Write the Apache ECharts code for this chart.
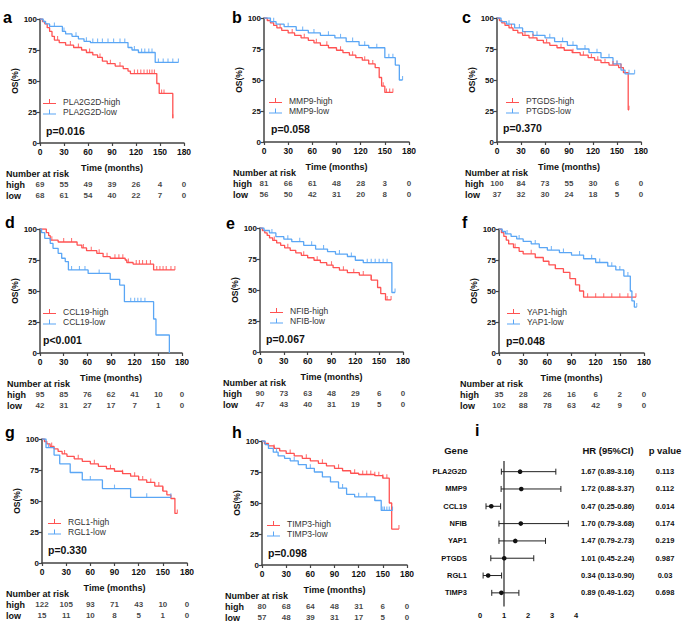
<!DOCTYPE html>
<html><head><meta charset="utf-8">
<script src="https://cdn.jsdelivr.net/npm/echarts@6/dist/echarts.min.js"></script>
<style>html,body{margin:0;padding:0;background:#fff}#c{width:685px;height:627px}</style>
</head><body><div id="c"></div><script>
// ---------------- DATA ----------------
const timeTicks = [0, 30, 60, 90, 120, 150, 180];
const panelGenes = ['PLA2G2D', 'MMP9', 'PTGDS', 'CCL19', 'NFIB', 'YAP1', 'RGL1', 'TIMP3'];
const panelLetters = ['a', 'b', 'c', 'd', 'e', 'f', 'g', 'h'];
const pValues = ['p=0.016', 'p=0.058', 'p=0.370', 'p<0.001', 'p=0.067', 'p=0.048', 'p=0.330', 'p=0.098'];
const riskRows = ['high', 'low'];
const riskHigh = [[69,55,49,39,26,4,0],[81,66,61,48,28,3,0],[100,84,73,55,30,6,0],[95,85,76,62,41,10,0],[90,73,63,48,29,6,0],[35,28,26,16,6,2,0],[122,105,93,71,43,10,0],[80,68,64,48,31,6,0]];
const riskLow = [[68,61,54,40,22,7,0],[56,50,42,31,20,8,0],[37,32,30,24,18,5,0],[42,31,27,17,7,1,0],[47,43,40,31,19,5,0],[102,88,78,63,42,9,0],[15,11,10,8,5,1,0],[57,48,39,31,17,5,0]];

// KM step curves [time, survival%]
const plaHigh = [[0,100],[3,98],[6,96],[9,93],[12,90],[15,86],[18,83],[24,81],[32,79],[42,77],[52,75],[58,73],[66,71],[72,69],[78,66],[84,64],[94,62],[104,60],[110,58],[113,56],[146,48],[149,40],[166,20],[166.5,20]];
const plaLow = [[0,100],[4,98],[7,96],[12,94],[28,90],[32,88],[40,86],[48,84],[55,82],[63,81],[110,77],[115,75],[123,73],[144,65],[173,65]];
const mmpHigh = [[0,100],[4,98],[8,96],[12,94],[16,92],[22,90],[30,88],[38,86],[46,84],[55,82],[62,80],[70,78],[80,76],[90,74],[98,72],[106,70],[114,68],[122,66],[130,63],[138,60],[143,52],[146,45],[150,40],[160,40]];
const mmpLow = [[0,100],[8,97],[15,95],[25,93],[40,90],[55,88],[70,86],[88,84],[102,81],[118,78],[130,76],[150,68],[163,62],[168,50],[172,50]];
const ptgHigh = [[0,100],[3,98],[6,96],[10,94],[15,92],[20,90],[26,88],[32,86],[40,84],[50,82],[58,80],[66,78],[75,76],[84,74],[94,72],[104,70],[114,68],[122,66],[130,64],[140,62],[152,60],[158,56],[164,26],[165,26]];
const ptgLow = [[0,100],[5,97],[12,95],[22,92],[32,89],[45,86],[60,84],[72,81],[88,78],[100,75],[115,72],[130,68],[145,63],[155,58],[160,55],[172,55]];
const cclHigh = [[0,100],[8,97],[11,94.6],[13,91],[23,89.5],[47,87],[53,84.7],[59,82.5],[72,80.4],[80,77.7],[89,76.4],[108,75],[110,73],[118,71.7],[144,67],[171,67]];
const cclLow = [[0,100],[2,97],[6,92.5],[13,88.4],[16.5,84.4],[23,80.4],[27.5,76.4],[32,73.7],[36,67],[61,64.2],[89,59.4],[101,54.8],[107,41.4],[144,27.4],[147,14.5],[164,0]];
const nfibHigh = [[0,100],[3,98],[6,96],[9,94],[12,92],[16,90],[21,88],[26,86],[31,84],[38,82],[45,80],[52,78],[60,76],[68,74],[76,72],[84,70],[92,68],[100,66],[110,64],[125,62],[140,58],[148,52],[152,47],[158,42],[165,42]];
const nfibLow = [[0,100],[5,98],[12,96],[20,93],[30,91],[40,89],[55,86],[70,83],[85,81],[95,79],[110,77],[120,74],[130,72],[166,48],[170,48]];
const yapHigh = [[0,100],[3,97],[6,94],[9,91],[12,88],[18,85],[25,82],[30,80],[45,77],[55,74],[62,71],[70,68],[80,65],[88,60],[95,55],[100,50],[105,45],[170,45]];
const yapLow = [[0,100],[4,98],[8,96],[15,94],[22,92],[30,90],[40,88],[50,85],[60,83],[75,81],[90,79],[105,76],[120,73],[135,70],[145,67],[155,62],[163,50],[165,42],[168,37],[171,37]];
const rglHigh = [[0,100],[3,98],[6,96],[10,94],[15,92],[20,90],[25,88],[31,86],[40,84],[50,82],[60,80],[70,78],[80,76],[90,74],[100,72],[110,70],[120,67],[130,65],[140,62],[150,58],[155,55],[160,52],[165,40],[168,40]];
const rglLow = [[0,100],[5,93],[15,87],[22,80],[35,73],[50,67],[75,60],[110,53],[160,53]];
const timHigh = [[0,100],[3,98],[8,96],[15,94],[22,92],[30,90],[40,88],[50,86],[60,84],[70,82],[80,80],[90,78],[100,76],[110,74],[120,73],[140,72],[150,70],[158,50],[161,29],[170,29]];
const timLow = [[0,100],[4,97],[8,94],[14,91],[20,88],[28,86],[35,84],[45,81],[55,78],[65,75],[75,71],[85,67],[95,62],[105,57],[115,55],[140,52],[148,44],[162,44]];

// censor times
const plaHighC = [22,38,48,62,75,88,100,118,122,126,130,134,137,140,143,152,155,166];
const plaLowC = [18,30,45,58,66,72,78,85,92,100,106,118,127,131,136,140,148,154,160,166,173];
const mmpHighC = [20,35,50,65,78,95,110,125,135,148,152,156,160];
const mmpLowC = [12,30,48,62,80,95,110,125,140,155,160,172];
const ptgHighC = [18,35,45,62,80,95,108,118,126,135,145,150,155,165];
const ptgLowC = [15,28,50,66,82,95,110,125,140,150,165,172];
const cclHighC = [15,30,40,55,65,75,85,95,100,105,112,122,126,130,135,140,148,152,156,160,166,171];
const cclLowC = [40,50,57,75,115,120,124,128,133];
const nfibHighC = [18,35,55,72,90,105,118,130,140,160,165];
const nfibLowC = [15,35,50,65,80,100,115,135,140,145,150,155,160,170];
const yapHighC = [20,40,70,110,120,130,140,150,160,170];
const yapLowC = [10,25,45,65,80,100,115,125,140,150,160,171];
const rglHighC = [12,28,45,65,85,100,115,125,135,145,150,168];
const rglLowC = [8,60,90,130,160];
const timHighC = [15,35,55,75,95,115,125,130,135,140,145,150,155,170];
const timLowC = [18,40,60,100,120,130,140,150,152,155,158,162];

const curvesHigh = [plaHigh, mmpHigh, ptgHigh, cclHigh, nfibHigh, yapHigh, rglHigh, timHigh];
const curvesLow = [plaLow, mmpLow, ptgLow, cclLow, nfibLow, yapLow, rglLow, timLow];
const censHigh = [plaHighC, mmpHighC, ptgHighC, cclHighC, nfibHighC, yapHighC, rglHighC, timHighC];
const censLow = [plaLowC, mmpLowC, ptgLowC, cclLowC, nfibLowC, yapLowC, rglLowC, timLowC];

// Forest plot
const forestGenes = ['PLA2G2D', 'MMP9', 'CCL19', 'NFIB', 'YAP1', 'PTGDS', 'RGL1', 'TIMP3'];
const hrVal = [1.67, 1.72, 0.47, 1.70, 1.47, 1.01, 0.34, 0.89];
const hrLo = [0.89, 0.88, 0.25, 0.79, 0.79, 0.45, 0.13, 0.49];
const hrHi = [3.16, 3.37, 0.86, 3.68, 2.73, 2.24, 0.90, 1.62];
const forestP = ['0.113', '0.112', '0.014', '0.174', '0.219', '0.987', '0.03', '0.698'];

// ---------------- LAYOUT ----------------
const FONT = 'Liberation Sans, Arial, Helvetica, sans-serif';
const RED = '#FF5252', BLUE = '#5AA6F5', AX = '#444';
const PH = 124;
const layout = [
  {gx:40,  gy:19,  gw:144, letter:[3,17],   lgx:43,  pv:[46,131],  nar:6},
  {gx:264, gy:18,  gw:145, letter:[232,17], lgx:269, pv:[271,129], nar:233},
  {gx:497, gy:18,  gw:144, letter:[462,17], lgx:506, pv:[503,128], nar:465},
  {gx:40,  gy:229, gw:142, letter:[5,222],  lgx:43,  pv:[43,340],  nar:7},
  {gx:260, gy:228, gw:143, letter:[226,223],lgx:270, pv:[266,339], nar:223},
  {gx:499, gy:229, gw:145, letter:[462,222],lgx:507, pv:[506,341], nar:460},
  {gx:42,  gy:439, gw:145, letter:[5,432],  lgx:48,  pv:[48,550],  nar:6},
  {gx:262, gy:441, gw:145, letter:[232,432],lgx:267, pv:[268,553], nar:225}
];

function stepValue(curve, t) {
  let s = curve[0][1];
  for (const p of curve) { if (p[0] <= t) s = p[1]; else break; }
  return s;
}

const grid = [], xAxis = [], yAxis = [], series = [], legend = [], graphic = [];
const boldLbl = {fontFamily: FONT, fontWeight: 'bold', color: '#111'};

layout.forEach((L, i) => {
  const y0 = L.gy + PH;
  const ki = 2 * i, ri = 2 * i + 1;
  // KM grid
  grid.push({left: L.gx, top: L.gy, width: L.gw, height: PH});
  xAxis.push({gridIndex: ki, type: 'value', min: 0, max: 180, interval: 30,
    axisLine: {lineStyle: {color: AX, width: 1.5}},
    axisTick: {length: 3, lineStyle: {color: AX, width: 1.2}},
    axisLabel: Object.assign({fontSize: 8.5, margin: 4}, boldLbl),
    splitLine: {show: false},
    name: 'Time (months)', nameLocation: 'middle', nameGap: 20,
    nameTextStyle: {fontFamily: FONT, fontWeight: 'bold', fontSize: 9, color: '#111'}});
  yAxis.push({gridIndex: ki, type: 'value', min: 0, max: 100, interval: 25,
    axisLine: {show: true, lineStyle: {color: AX, width: 1.5}},
    axisTick: {show: true, length: 3, lineStyle: {color: AX, width: 1.2}},
    axisLabel: Object.assign({fontSize: 8, margin: 3}, boldLbl),
    splitLine: {show: false},
    name: 'OS(%)', nameLocation: 'middle', nameGap: 20,
    nameTextStyle: {fontFamily: FONT, fontWeight: 'bold', fontSize: 8.5, color: '#111'}});
  // risk grid
  grid.push({left: L.gx, top: y0 + 36, width: L.gw, height: 22});
  xAxis.push({gridIndex: ri, type: 'value', min: 0, max: 180, show: false});
  yAxis.push({gridIndex: ri, type: 'category', data: riskRows, inverse: true,
    axisLine: {show: false}, axisTick: {show: false},
    axisLabel: Object.assign({fontSize: 9, align: 'left', margin: L.gx - L.nar, interval: 0}, boldLbl)});

  const g = panelGenes[i];
  [[curvesHigh[i], censHigh[i], RED, g + '-high'], [curvesLow[i], censLow[i], BLUE, g + '-low']].forEach(([c, cs, col, nm]) => {
    series.push({type: 'line', name: nm, xAxisIndex: ki, yAxisIndex: ki, data: c, step: 'end',
      showSymbol: false, symbol: 'none', color: col, lineStyle: {color: col, width: 1.3}, silent: true, animation: false, z: 3});
    series.push({type: 'scatter', name: nm + ' censored', xAxisIndex: ki, yAxisIndex: ki,
      data: cs.map(t => [t, stepValue(c, t)]), symbol: 'rect', symbolSize: [1.1, 4], symbolOffset: [0, -2],
      itemStyle: {color: col}, silent: true, animation: false, z: 4});
  });
  legend.push({data: [g + '-high', g + '-low'], left: L.lgx, top: L.gy + 78, orient: 'vertical',
    itemGap: 1.5, itemWidth: 13, itemHeight: 5, padding: 0, selectedMode: false,
    icon: 'path://M0,8H26V10H0Z M12,0H14V8H12Z',
    textStyle: {fontFamily: FONT, fontSize: 8.5, color: '#333', padding: [0, 0, 0, 2]}});
  [riskHigh[i], riskLow[i]].forEach((row, r) => {
    series.push({type: 'scatter', xAxisIndex: ri, yAxisIndex: ri, symbolSize: 0, silent: true, animation: false,
      data: row.map((v, k) => ({value: [timeTicks[k], r], n: v})),
      label: {show: true, position: 'inside', formatter: p => String(p.data.n),
        fontFamily: FONT, fontWeight: 'bold', fontSize: 8, color: '#111'}});
  });
  graphic.push({type: 'text', x: L.nar, y: y0 + 31, style: {text: 'Number at risk', font: 'bold 9px ' + FONT, fill: '#111', textVerticalAlign: 'middle'}});
  graphic.push({type: 'text', x: L.letter[0], y: L.letter[1], style: {text: panelLetters[i], font: 'bold 16px ' + FONT, fill: '#000', textVerticalAlign: 'middle'}});
  graphic.push({type: 'text', x: L.pv[0], y: L.pv[1], style: {text: pValues[i], font: 'bold 10.5px ' + FONT, fill: '#111', textVerticalAlign: 'middle'}});
});

// Forest plot
const FI = 16;
grid.push({left: 480, top: 463, width: 96, height: 138.5});
xAxis.push({gridIndex: FI, type: 'value', min: 0, max: 4, interval: 1, offset: 5,
  axisLine: {lineStyle: {color: AX, width: 1.2}},
  axisTick: {inside: true, length: 3, lineStyle: {color: AX, width: 1.2}},
  axisLabel: Object.assign({fontSize: 7.5, margin: 5}, boldLbl), splitLine: {show: false}});
yAxis.push({gridIndex: FI, type: 'category', data: forestGenes, inverse: true,
  axisLine: {show: false}, axisTick: {show: false},
  axisLabel: Object.assign({fontSize: 7.5, margin: 13, interval: 0}, boldLbl)});
const hrText = hrVal.map((v, k) => v.toFixed(2) + ' (' + hrLo[k].toFixed(2) + '-' + hrHi[k].toFixed(2) + ')');
yAxis.push({gridIndex: FI, type: 'category', data: hrText, inverse: true, position: 'right', offset: 0,
  axisLine: {show: false}, axisTick: {show: false},
  axisLabel: Object.assign({fontSize: 7.5, align: 'left', margin: 5, interval: 0}, boldLbl)});
yAxis.push({gridIndex: FI, type: 'category', data: forestP, inverse: true, position: 'right', offset: 0,
  axisLine: {show: false}, axisTick: {show: false},
  axisLabel: Object.assign({fontSize: 7.5, align: 'center', margin: 89, interval: 0}, boldLbl)});
series.push({type: 'custom', xAxisIndex: FI, yAxisIndex: FI, silent: true, animation: false,
  encode: {x: [0, 1, 3], y: 2},
  data: forestGenes.map((g, k) => [hrLo[k], hrHi[k], k, hrVal[k]]),
  renderItem: (params, api) => {
    const l = api.coord([api.value(0), api.value(2)]);
    const h = api.coord([api.value(1), api.value(2)]);
    const c = api.coord([api.value(3), api.value(2)]);
    const st = {stroke: '#222', lineWidth: 1};
    const ch = [
      {type: 'line', shape: {x1: l[0], y1: l[1], x2: h[0], y2: h[1]}, style: st},
      {type: 'line', shape: {x1: l[0], y1: l[1] - 3, x2: l[0], y2: l[1] + 3}, style: st},
      {type: 'line', shape: {x1: h[0], y1: h[1] - 3, x2: h[0], y2: h[1] + 3}, style: st},
      {type: 'circle', shape: {cx: c[0], cy: c[1], r: 2.3}, style: {fill: '#111'}}
    ];
    if (params.dataIndex === 0) {
      const cs = params.coordSys;
      const r = api.coord([1, 0]);
      ch.push({type: 'line', shape: {x1: r[0], y1: cs.y - 2, x2: r[0], y2: cs.y + cs.height + 5}, style: {stroke: '#222', lineWidth: 1.2}});
    }
    return {type: 'group', children: ch};
  }});
graphic.push({type: 'text', x: 475, y: 430, style: {text: 'i', font: 'bold 16px ' + FONT, fill: '#000', textVerticalAlign: 'middle'}});
graphic.push({type: 'text', x: 468, y: 450, style: {text: 'Gene', font: 'bold 9.5px ' + FONT, fill: '#111', textAlign: 'right', textVerticalAlign: 'middle'}});
graphic.push({type: 'text', x: 608, y: 450, style: {text: 'HR (95%CI)', font: 'bold 9.5px ' + FONT, fill: '#111', textAlign: 'center', textVerticalAlign: 'middle'}});
graphic.push({type: 'text', x: 665, y: 450, style: {text: 'p value', font: 'bold 9.5px ' + FONT, fill: '#111', textAlign: 'center', textVerticalAlign: 'middle'}});

const chart = echarts.init(document.getElementById('c'), null, {renderer: 'svg'});
chart.setOption({animation: false, backgroundColor: '#fff', grid, xAxis, yAxis, series, legend, graphic});
</script></body></html>
